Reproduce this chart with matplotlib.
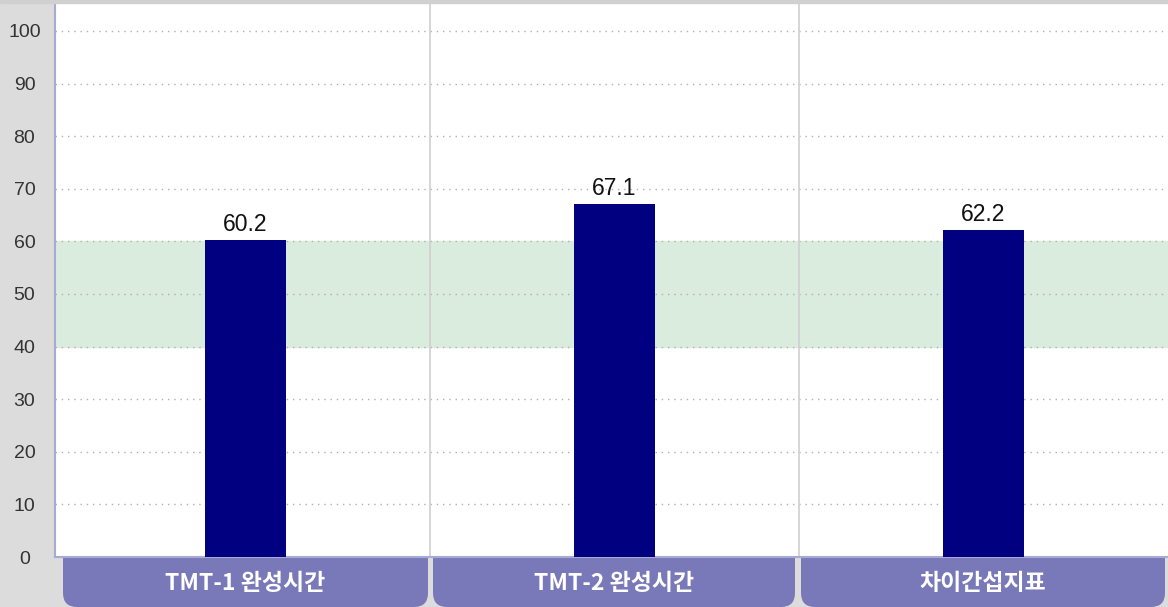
import matplotlib
matplotlib.use('Agg')
import matplotlib.pyplot as plt
from matplotlib.patches import FancyBboxPatch

plt.rcParams['font.family'] = ['Noto Sans CJK KR', 'DejaVu Sans']

# 데이터
categories = ['TMT-1 완성시간', 'TMT-2 완성시간', '차이간섭지표']
values = [60.2, 67.1, 62.2]
yticks = [0, 10, 20, 30, 40, 50, 60, 70, 80, 90, 100]
band = (40, 60)

W, H = 1168, 607
fig = plt.figure(figsize=(W / 100, H / 100), dpi=100)
fig.patch.set_facecolor('#dcdcdc')

# 플롯 영역 (픽셀 기준)
left, right, top, bottom = 55, 1168, 3, 557
ax = fig.add_axes([left / W, (H - bottom) / H, (right - left) / W, (bottom - top) / H])
ax.set_facecolor('white')
ax.set_xlim(-0.016, 3)
ax.set_ylim(0, 100 + (31 - top) / ((bottom - 31) / 100))

# 정상 범위 띠
ax.axhspan(band[0], band[1], color='#d9ecdd', zorder=0)

# 점선 격자
for t in yticks[1:]:
    ax.axhline(t, color='#b0b0b0', lw=1, ls=(0, (1, 3.5)), zorder=1)

# 구분선
for xv in [1, 2]:
    ax.axvline(xv, color='#cfcfcf', lw=1.2, zorder=1)

xs = [i + 0.5 for i in range(len(categories))]
ax.bar(xs, values, width=0.22, color='#000080', zorder=3)
for x, v in zip(xs, values):
    ax.text(x, v + 0.8, f'{v:.1f}', ha='center', va='bottom', fontsize=16.5,
            family='Liberation Sans', color='#111111', zorder=4)

ax.set_xticks([])
ax.set_yticks(yticks)
ax.tick_params(axis='y', length=0, pad=22, labelsize=14, labelcolor='#333333')
for lb in ax.get_yticklabels():
    lb.set_ha('center')
    lb.set_family('Liberation Sans')

for s in ['top', 'right']:
    ax.spines[s].set_visible(False)
ax.spines['left'].set_color('#a9a9d6')
ax.spines['left'].set_linewidth(1.5)
ax.spines['bottom'].set_color('#a9a9d6')
ax.spines['bottom'].set_linewidth(1.5)

# 상단 테두리
fig.add_artist(plt.Rectangle((0, (H - top) / H), 1, top / H, transform=fig.transFigure,
                             color='#d0d0d0', zorder=5))

# 하단 카테고리 탭
tabs = [(63, 428), (433, 795), (801, 1165)]
for (x0, x1), name in zip(tabs, categories):
    p = FancyBboxPatch((x0 / W, 0), (x1 - x0) / W, (H - 480) / H,
                       boxstyle='round,pad=0,rounding_size=0.012',
                       transform=fig.transFigure, facecolor='#7979b9',
                       edgecolor='none', zorder=-1, mutation_aspect=W / H)
    fig.add_artist(p)
    fig.text((x0 + x1) / 2 / W, (H - 583) / H, name, ha='center', va='center',
             color='white', fontsize=16.5, fontweight='bold')

fig.savefig('out.png', dpi=100, facecolor=fig.get_facecolor())
